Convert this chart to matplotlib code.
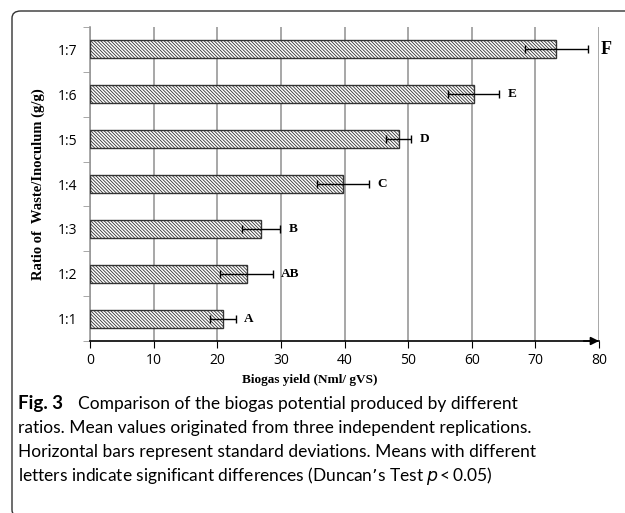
import matplotlib.pyplot as plt
from matplotlib.patches import FancyBboxPatch

# ratios, mean yields, standard deviations, Duncan letters
ratios = ['1:1', '1:2', '1:3', '1:4', '1:5', '1:6', '1:7']
yields = [20.9, 24.6, 26.9, 39.8, 48.5, 60.3, 73.3]
sd = [2.0, 4.1, 3.0, 4.1, 2.0, 4.0, 5.0]
letters = ['A', 'AB', 'B', 'C', 'D', 'E', 'F']

plt.rcParams['hatch.color'] = '#444444'
plt.rcParams['hatch.linewidth'] = 0.6

W, H = 625, 513
fig = plt.figure(figsize=(W / 100, H / 100), dpi=100)

# rounded frame of the figure panel (only top and left edges are visible)
frame = FancyBboxPatch((12 / W, -4 / H), 700 / W, (H - 11 + 4) / H,
                       boxstyle='round,pad=0,rounding_size=0.014',
                       transform=fig.transFigure, fill=False,
                       edgecolor='#333333', linewidth=1.0)
fig.patches.append(frame)

ax = fig.add_axes([90 / W, 1 - 341 / H, (599 - 90) / W, (341 - 27) / H])
pos = range(len(ratios))
ax.barh(pos, yields, height=0.4, color='white', edgecolor='#333333',
        linewidth=1.0, hatch='\\' * 10, zorder=3)
ax.errorbar(yields, pos, xerr=sd, fmt='none', ecolor='black', elinewidth=1.0,
            capsize=3, capthick=1.0, zorder=4)

for i, (v, s, l) in enumerate(zip(yields, sd, letters)):
    big = l == 'F'
    ax.annotate(l, (v + s, i), xytext=(9 if big else 6, 0),
                textcoords='offset points', va='center', ha='left',
                fontsize=13 if big else 9.5, fontweight='bold',
                family='Liberation Serif')

ax.set_xlim(0, 80)
ax.set_ylim(-0.5, len(ratios) - 0.5)
ax.set_xticks(range(0, 81, 10))
ax.set_yticks(pos)
ax.set_yticklabels(ratios)
ax.set_yticks([p - 0.5 for p in range(len(ratios) + 1)], minor=True)
ax.tick_params(axis='y', which='major', length=0, pad=9, labelsize=10)
ax.tick_params(axis='y', which='minor', length=5, color='#999999', direction='out')
ax.tick_params(axis='x', length=5, direction='out', labelsize=10, pad=4)
for lab in ax.get_xticklabels() + ax.get_yticklabels():
    lab.set_family('Open Sans')

ax.grid(axis='x', color='#a0a0a0', linewidth=1.3, zorder=0)
ax.set_axisbelow(True)
for s in ['top', 'right']:
    ax.spines[s].set_visible(False)
ax.spines['left'].set_color('#999999')
ax.spines['left'].set_linewidth(1.2)
ax.spines['bottom'].set_linewidth(1.2)
ax.annotate('', xy=(1.0, 0), xytext=(0.97, 0), xycoords='axes fraction',
            arrowprops=dict(arrowstyle='-|>', color='black', lw=1.2,
                            mutation_scale=12, shrinkA=0, shrinkB=0))

ax.set_xlabel('Biogas yield (Nml/ gVS)', family='Liberation Serif',
              fontweight='bold', fontsize=9.5)
ax.xaxis.set_label_coords((310 - 90) / (599 - 90), -0.105)
ax.set_ylabel('Ratio of  Waste/Inoculum (g/g)', family='Liberation Serif',
              fontweight='bold', fontsize=10.5)
ax.yaxis.set_label_coords(-(90 - 45) / (599 - 90), 0.5)

cap = ['Comparison of the biogas potential produced by different',
       'ratios. Mean values originated from three independent replications.',
       'Horizontal bars represent standard deviations. Means with different',
       'letters indicate significant differences (Duncan\u2019s Test $p$\u2009<\u20090.05)']
fig.text(18 / W, 1 - 404 / H, 'Fig. 3', family='Lato', fontweight='bold',
         fontsize=13.5, va='center')
fig.text(78 / W, 1 - 404 / H, cap[0], family='Lato', fontsize=12.5, va='center')
for k, line in enumerate(cap[1:]):
    fig.text(18 / W, 1 - (428 + 24 * k) / H, line, family='Lato',
             fontsize=12.5, va='center')

fig.savefig('out.png', dpi=100)
